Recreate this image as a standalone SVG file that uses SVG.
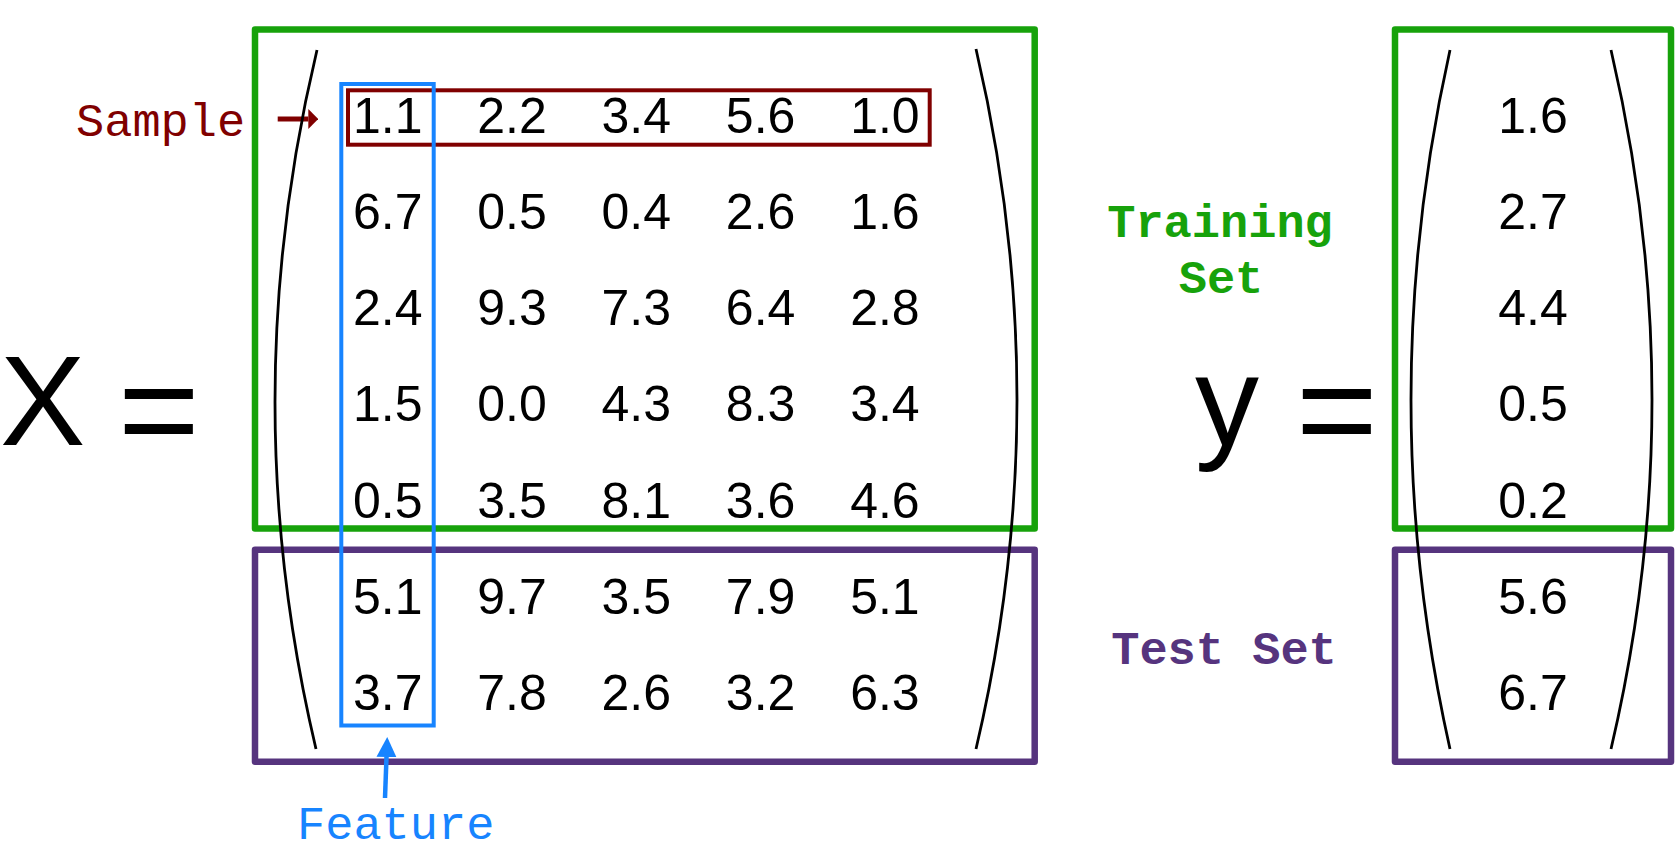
<svg xmlns="http://www.w3.org/2000/svg" width="1677" height="861" viewBox="0 0 1677 861">
  <style>
    .num { font-family: "Liberation Sans", Arial, Helvetica, sans-serif; font-size: 50px; fill: #000; text-anchor: middle; }
    .big { font-family: "Liberation Sans", Arial, Helvetica, sans-serif; font-size: 128px; fill: #000; }
    .eq { font-family: "Liberation Sans", Arial, Helvetica, sans-serif; font-size: 140px; fill: #000; }
    .mono { font-family: "Liberation Mono", "Courier New", monospace; font-size: 47px; }
    .monob { font-family: "Liberation Mono", "Courier New", monospace; font-size: 47px; font-weight: bold; text-anchor: middle; }
    .train { fill: none; stroke: #17A20B; stroke-width: 6.5; stroke-linejoin: round; }
    .test { fill: none; stroke: #56347E; stroke-width: 6.5; stroke-linejoin: round; }
    .paren { fill: none; stroke: #000; stroke-width: 2.8; }
    .feature { fill: none; stroke: #1784FF; stroke-width: 4; }
    .sample { fill: none; stroke: #800000; stroke-width: 4; }
  </style>
  <defs>
    <marker id="headRed" markerUnits="userSpaceOnUse" viewBox="0 0 10 20" refX="0" refY="10" markerWidth="10" markerHeight="20" orient="auto">
      <path d="M0,0 L10,10 L0,20 Z" fill="#800000"/>
    </marker>
    <marker id="headBlue" markerUnits="userSpaceOnUse" viewBox="0 0 20 20" refX="0" refY="10" markerWidth="20" markerHeight="20" orient="auto">
      <path d="M0,0 L20,10 L0,20 Z" fill="#1784FF"/>
    </marker>
  </defs>
  <rect width="1677" height="861" fill="#fff"/>

  <g id="x-label">
    <text class="big" x="0" y="445">X</text>
    <text class="eq" x="118" y="457">=</text>
  </g>

  <g id="y-label">
    <text class="big" x="1195" y="445">y</text>
    <text class="eq" x="1296" y="457">=</text>
  </g>

  <g id="x-training-box">
    <rect class="train" x="255" y="29.5" width="779.7" height="499"/>
  </g>
  <g id="x-test-box">
    <rect class="test" x="255" y="549.7" width="779.7" height="212"/>
  </g>
  <g id="y-training-box">
    <rect class="train" x="1395" y="29.5" width="276" height="499"/>
  </g>
  <g id="y-test-box">
    <rect class="test" x="1395" y="549.7" width="276" height="212"/>
  </g>

  <g id="training-label">
    <text class="monob" fill="#17A20B" x="1220" y="236.7">Training</text>
    <text class="monob" fill="#17A20B" x="1221" y="292.7">Set</text>
  </g>
  <g id="test-label">
    <text class="monob" fill="#56347E" x="1224" y="664">Test Set</text>
  </g>

  <g id="sample-box">
    <rect class="sample" x="348" y="90.3" width="581.7" height="54.4"/>
  </g>

  <g id="x-matrix">
    <g id="x-row1">
      <text class="num" x="387.7" y="132.7">1.1</text><text class="num" x="512" y="132.7">2.2</text><text class="num" x="636.3" y="132.7">3.4</text><text class="num" x="760.6" y="132.7">5.6</text><text class="num" x="884.9" y="132.7">1.0</text>
    </g>
    <g id="x-row2">
      <text class="num" x="387.7" y="228.95">6.7</text><text class="num" x="512" y="228.95">0.5</text><text class="num" x="636.3" y="228.95">0.4</text><text class="num" x="760.6" y="228.95">2.6</text><text class="num" x="884.9" y="228.95">1.6</text>
    </g>
    <g id="x-row3">
      <text class="num" x="387.7" y="325.2">2.4</text><text class="num" x="512" y="325.2">9.3</text><text class="num" x="636.3" y="325.2">7.3</text><text class="num" x="760.6" y="325.2">6.4</text><text class="num" x="884.9" y="325.2">2.8</text>
    </g>
    <g id="x-row4">
      <text class="num" x="387.7" y="421.45">1.5</text><text class="num" x="512" y="421.45">0.0</text><text class="num" x="636.3" y="421.45">4.3</text><text class="num" x="760.6" y="421.45">8.3</text><text class="num" x="884.9" y="421.45">3.4</text>
    </g>
    <g id="x-row5">
      <text class="num" x="387.7" y="517.7">0.5</text><text class="num" x="512" y="517.7">3.5</text><text class="num" x="636.3" y="517.7">8.1</text><text class="num" x="760.6" y="517.7">3.6</text><text class="num" x="884.9" y="517.7">4.6</text>
    </g>
    <g id="x-row6">
      <text class="num" x="387.7" y="613.95">5.1</text><text class="num" x="512" y="613.95">9.7</text><text class="num" x="636.3" y="613.95">3.5</text><text class="num" x="760.6" y="613.95">7.9</text><text class="num" x="884.9" y="613.95">5.1</text>
    </g>
    <g id="x-row7">
      <text class="num" x="387.7" y="710.2">3.7</text><text class="num" x="512" y="710.2">7.8</text><text class="num" x="636.3" y="710.2">2.6</text><text class="num" x="760.6" y="710.2">3.2</text><text class="num" x="884.9" y="710.2">6.3</text>
    </g>
  </g>

  <g id="y-vector">
    <text class="num" x="1533" y="132.7">1.6</text>
    <text class="num" x="1533" y="228.95">2.7</text>
    <text class="num" x="1533" y="325.2">4.4</text>
    <text class="num" x="1533" y="421.45">0.5</text>
    <text class="num" x="1533" y="517.7">0.2</text>
    <text class="num" x="1533" y="613.95">5.6</text>
    <text class="num" x="1533" y="710.2">6.7</text>
  </g>

  <g id="sample-label">
    <text class="mono" fill="#800000" x="76" y="136">Sample</text>
  </g>
  <g id="feature-label">
    <text class="mono" fill="#1784FF" x="297" y="839">Feature</text>
  </g>

  <g id="connectors">
    <line x1="277.7" y1="119" x2="308.3" y2="119" stroke="#800000" stroke-width="5" marker-end="url(#headRed)"/>
    <line x1="385" y1="798" x2="386.5" y2="757" stroke="#1784FF" stroke-width="4.5" marker-end="url(#headBlue)"/>
  </g>

  <g id="parens">
    <path class="paren" d="M317,50 Q233.5,400 316,749"/>
    <path class="paren" d="M976,49 Q1058,400 976,749"/>
    <path class="paren" d="M1450,50 Q1372,400 1450,749"/>
    <path class="paren" d="M1611,50 Q1693,400 1611,749"/>
  </g>

  <g id="feature-box">
    <rect class="feature" x="341.3" y="84" width="92.4" height="641.5"/>
  </g>
</svg>
